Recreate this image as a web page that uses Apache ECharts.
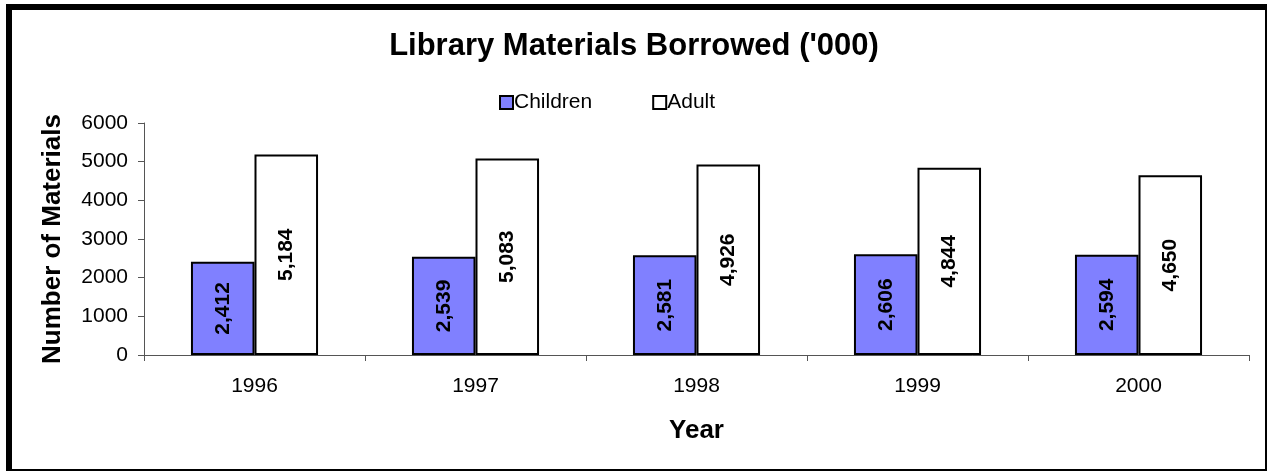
<!DOCTYPE html>
<html><head><meta charset="utf-8">
<script src="https://cdn.jsdelivr.net/npm/echarts@6/dist/echarts.min.js"></script>
<style>html,body{margin:0;padding:0;background:#fff}#c{width:1268px;height:472px}</style>
</head><body><div id="c"></div>
<script>
var categories = ['1996', '1997', '1998', '1999', '2000'];
var childrenValues = [2412, 2539, 2581, 2606, 2594];
var adultValues = [5184, 5083, 4926, 4844, 4650];
var yTicks = [0, 1000, 2000, 3000, 4000, 5000, 6000];

var chart = echarts.init(document.getElementById('c'));
var FONT = '"Liberation Sans", Arial, sans-serif';
function fmt(v){ return v.toLocaleString('en-US'); }
var labelStyle = {
  show: true, position: 'inside', rotate: 90,
  fontFamily: FONT, fontWeight: 'bold', fontSize: 21, color: '#000',
  formatter: function(p){ return fmt(p.value); }
};
chart.setOption({
  animation: false,
  textStyle: { fontFamily: FONT },
  title: {
    text: "Library Materials Borrowed ('000)",
    left: 'center', top: 31, padding: 0,
    textStyle: { fontFamily: FONT, fontWeight: 'bold', fontSize: 31, color: '#000' }
  },
  legend: {
    left: 499, top: 92, padding: 0, itemWidth: 13, itemHeight: 13, itemGap: 60,
    textStyle: { fontFamily: FONT, fontSize: 21, color: '#000', padding: [0,0,0,-4] },
    data: [
      { name: 'Children', icon: 'rect', itemStyle: { color: '#8080ff', borderColor: '#000', borderWidth: 2 } },
      { name: 'Adult', icon: 'rect', itemStyle: { color: '#fff', borderColor: '#000', borderWidth: 2 } }
    ]
  },
  grid: { left: 144, right: 19, top: 123, bottom: 117, containLabel: false },
  xAxis: {
    type: 'category', data: categories,
    name: 'Year', nameLocation: 'middle', nameGap: 63,
    nameTextStyle: { fontFamily: FONT, fontWeight: 'bold', fontSize: 26, color: '#000' },
    axisLine: { lineStyle: { color: '#555', width: 1 } },
    axisTick: { show: true, length: 6, lineStyle: { color: '#555' } },
    axisLabel: { fontFamily: FONT, fontSize: 21, color: '#000', margin: 21 }
  },
  yAxis: {
    type: 'value', min: yTicks[0], max: yTicks[yTicks.length-1], interval: 1000,
    name: 'Number of Materials', nameLocation: 'middle', nameGap: 78, nameRotate: 90,
    nameTextStyle: { fontFamily: FONT, fontWeight: 'bold', fontSize: 26, color: '#000' },
    axisLine: { show: true, lineStyle: { color: '#555', width: 1 } },
    axisTick: { show: true, length: 6, lineStyle: { color: '#555' } },
    splitLine: { show: false },
    axisLabel: { fontFamily: FONT, fontSize: 21, color: '#000', margin: 16,
      formatter: function(v){ return String(v); } }
  },
  series: [
    { name: 'Children', type: 'bar', data: childrenValues, barGap: '0%', barCategoryGap: '42.5%',
      itemStyle: { color: '#8080ff', borderColor: '#000', borderWidth: 2 }, label: labelStyle },
    { name: 'Adult', type: 'bar', data: adultValues,
      itemStyle: { color: '#fff', borderColor: '#000', borderWidth: 2 }, label: labelStyle }
  ],
  graphic: [
    { type: 'rect', shape: { x: 8, y: 6, width: 1258, height: 464 }, style: { fill: 'none', stroke: '#000', lineWidth: 2 }, silent: true },
    { type: 'rect', shape: { x: 6, y: 4, width: 6, height: 467 }, style: { fill: '#000' }, silent: true },
    { type: 'rect', shape: { x: 6, y: 4, width: 1261, height: 6 }, style: { fill: '#000' }, silent: true }
  ]
});
</script></body></html>
